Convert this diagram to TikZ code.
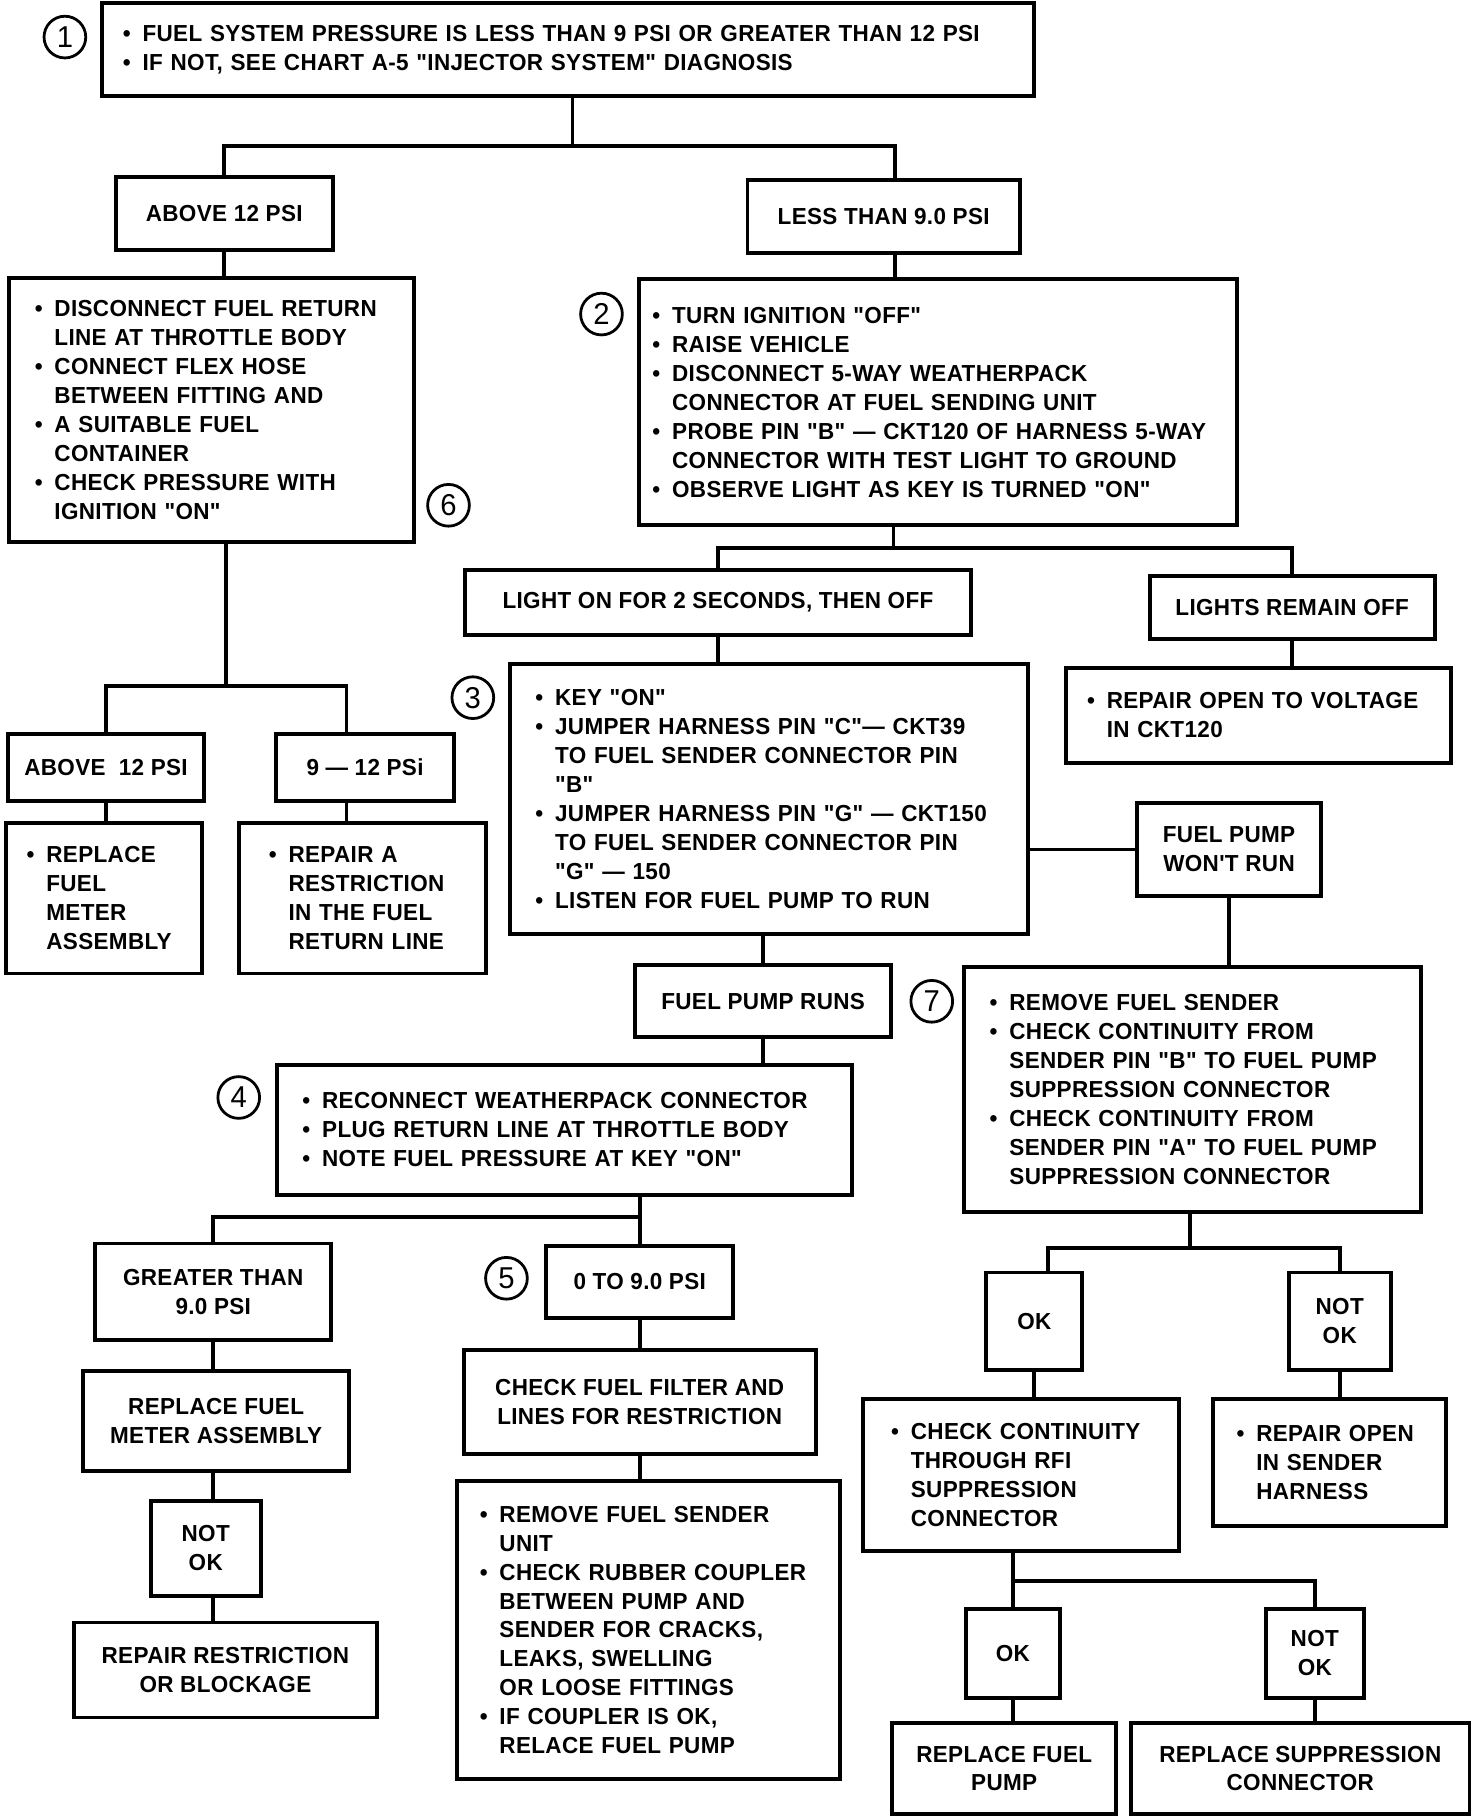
\documentclass[tikz,border=0pt]{standalone}
\usepackage{fontspec}
\newfontfamily\chartfont{Liberation Sans}[FakeStretch=0.97,LetterSpace=1.5]
\newcommand{\itm}{\makebox[0.85em][l]{\textbullet}}
\newcommand{\ind}{\hspace*{0.85em}}
\newcommand{\dash}{\textemdash}
\begin{document}
\begin{tikzpicture}[x=0.5pt,y=-0.5pt,
  box/.style={draw, line width=1.7pt, inner sep=0pt, align=center,
    font=\chartfont\bfseries\fontsize{10}{12.5}\selectfont},
  lbox/.style={box, align=left, inner xsep=11pt},
  num/.style={draw, circle, line width=1.2pt, minimum size=18pt, inner sep=0pt,
    font=\chartfont\fontsize{13}{13}\selectfont},
  wire/.style={line width=1.7pt}]
\useasboundingbox (0,0) rectangle (1270,1567);

\node[lbox, inner xsep=9pt, text width=384pt, minimum height=40pt] (check) at (490,43)
  {\itm FUEL SYSTEM PRESSURE IS LESS THAN 9 PSI OR GREATER THAN 12 PSI\\
   \itm IF NOT, SEE CHART A-5 "INJECTOR SYSTEM" DIAGNOSIS};
\node[num] (n1) at (56,32) {1};

\node[box, minimum width=93.5pt, minimum height=31.5pt] (hi) at (193.5,184.5) {ABOVE 12 PSI};
\node[box, minimum width=117.5pt, minimum height=31.5pt] (lo) at (762.5,186.5) {LESS THAN 9.0 PSI};

\node[lbox, text width=152.5pt, minimum height=114pt] (flex) at (182.5,354)
  {\itm DISCONNECT FUEL RETURN\\ \ind LINE AT THROTTLE BODY\\
   \itm CONNECT FLEX HOSE\\ \ind BETWEEN FITTING AND\\
   \itm A SUITABLE FUEL\\ \ind CONTAINER\\
   \itm CHECK PRESSURE WITH\\ \ind IGNITION "ON"};
\node[num] (n6) at (387,436) {6};

\node[lbox, inner xsep=6pt, text width=246pt, minimum height=106pt] (probe) at (809,347)
  {\itm TURN IGNITION "OFF"\\ \itm RAISE VEHICLE\\
   \itm DISCONNECT 5-WAY WEATHERPACK\\ \ind CONNECTOR AT FUEL SENDING UNIT\\
   \itm PROBE PIN "B" \dash\ CKT120 OF HARNESS 5-WAY\\ \ind CONNECTOR WITH TEST LIGHT TO GROUND\\
   \itm OBSERVE LIGHT AS KEY IS TURNED "ON"};
\node[num] (n2) at (519,271) {2};

\node[box, minimum width=218.5pt, minimum height=28pt] (lon) at (619.5,520) {LIGHT ON FOR 2 SECONDS, THEN OFF};
\node[box, minimum width=123pt, minimum height=27pt] (loff) at (1115,524) {LIGHTS REMAIN OFF};
\node[lbox, inner xsep=9pt, text width=148pt, minimum height=41pt] (volt) at (1086,617)
  {\itm REPAIR OPEN TO VOLTAGE\\ \ind IN CKT120};

\node[lbox, text width=201.5pt, minimum height=116.5pt] (jump) at (663.5,689.5)
  {\itm KEY "ON"\\
   \itm JUMPER HARNESS PIN "C"\dash\ CKT39\\ \ind TO FUEL SENDER CONNECTOR PIN\\ \ind "B"\\
   \itm JUMPER HARNESS PIN "G" \dash\ CKT150\\ \ind TO FUEL SENDER CONNECTOR PIN\\ \ind "G" \dash\ 150\\
   \itm LISTEN FOR FUEL PUMP TO RUN};
\node[num] (n3) at (408,602) {3};

\node[box, minimum width=79.5pt, minimum height=40pt] (norun) at (1060.5,733) {FUEL PUMP\\WON'T RUN};
\node[lbox, text width=175pt, minimum height=106pt] (cont) at (1029,940)
  {\itm REMOVE FUEL SENDER\\
   \itm CHECK CONTINUITY FROM\\ \ind SENDER PIN "B" TO FUEL PUMP\\ \ind SUPPRESSION CONNECTOR\\
   \itm CHECK CONTINUITY FROM\\ \ind SENDER PIN "A" TO FUEL PUMP\\ \ind SUPPRESSION CONNECTOR};
\node[num] (n7) at (804,864) {7};

\node[box, minimum width=110.5pt, minimum height=31pt] (runs) at (658.5,864) {FUEL PUMP RUNS};
\node[lbox, text width=226pt, minimum height=56pt] (plug) at (487,975)
  {\itm RECONNECT WEATHERPACK CONNECTOR\\
   \itm PLUG RETURN LINE AT THROTTLE BODY\\
   \itm NOTE FUEL PRESSURE AT KEY "ON"};
\node[num] (n4) at (206,947) {4};

\node[box, minimum width=102pt, minimum height=41.5pt] (gt) at (184,1114.5) {GREATER THAN\\9.0 PSI};
\node[box, minimum width=80.5pt, minimum height=31pt] (zero) at (552,1106) {0 TO 9.0 PSI};
\node[num] (n5) at (437,1103) {5};
\node[box, minimum width=114.5pt, minimum height=43pt] (meter) at (186.5,1226) {REPLACE FUEL\\METER ASSEMBLY};
\node[box, minimum width=47.5pt, minimum height=41pt] (nokA) at (177.5,1336) {NOT\\OK};
\node[box, minimum width=130.5pt, minimum height=41pt] (block) at (194.5,1441) {REPAIR RESTRICTION\\OR BLOCKAGE};
\node[box, minimum width=152pt, minimum height=45pt] (filter) at (552,1210) {CHECK FUEL FILTER AND\\LINES FOR RESTRICTION};
\node[lbox, inner xsep=10pt, text width=145.5pt, minimum height=128.5pt] (coupler) at (559.5,1406.5)
  {\itm REMOVE FUEL SENDER\\ \ind UNIT\\
   \itm CHECK RUBBER COUPLER\\ \ind BETWEEN PUMP AND\\ \ind SENDER FOR CRACKS,\\
   \ind LEAKS, SWELLING\\ \ind OR LOOSE FITTINGS\\
   \itm IF COUPLER IS OK,\\ \ind RELACE FUEL PUMP};

\node[box, minimum width=84.5pt, minimum height=29pt] (hiB) at (91.5,662) {ABOVE\ \ 12 PSI};
\node[box, minimum width=77pt, minimum height=29pt] (mid) at (315,662) {9 \dash\ 12 PSi};
\node[lbox, inner xsep=9pt, text width=66.5pt, minimum height=65pt] (meterB) at (89.5,775)
  {\itm REPLACE\\ \ind FUEL\\ \ind METER\\ \ind ASSEMBLY};
\node[lbox, inner xsep=13pt, text width=80.5pt, minimum height=65pt] (restr) at (312.5,775)
  {\itm REPAIR A\\ \ind RESTRICTION\\ \ind IN THE FUEL\\ \ind RETURN LINE};

\node[box, minimum width=41.5pt, minimum height=42pt] (okA) at (892.5,1140) {OK};
\node[box, minimum width=44pt, minimum height=42pt] (nokB) at (1156,1140) {NOT\\OK};
\node[lbox, inner xsep=12pt, text width=112pt, minimum height=65.5pt] (rfi) at (881,1272.5)
  {\itm CHECK CONTINUITY\\ \ind THROUGH RFI\\ \ind SUPPRESSION\\ \ind CONNECTOR};
\node[lbox, inner xsep=10pt, text width=80.5pt, minimum height=55pt] (harness) at (1147.5,1262)
  {\itm REPAIR OPEN\\ \ind IN SENDER\\ \ind HARNESS};
\node[box, minimum width=40.5pt, minimum height=38.5pt] (okB) at (874,1426.5) {OK};
\node[box, minimum width=42.5pt, minimum height=38.5pt] (nokC) at (1134.5,1426.5) {NOT\\OK};
\node[box, minimum width=96.5pt, minimum height=39pt] (pump) at (866.5,1526) {REPLACE FUEL\\PUMP};
\node[box, minimum width=146pt, minimum height=39pt] (supp) at (1122,1526) {REPLACE SUPPRESSION\\CONNECTOR};

\coordinate (t1) at (494,126);
\draw[wire] (t1 |- check.south) -- (t1);
\draw[wire] (hi.north) |- (t1) -| ([xshift=5pt]lo.north);
\draw[wire] (hi) -- (hi |- flex.north);
\draw[wire] ([xshift=5pt]lo.south) -- ([xshift=5pt]lo.south |- probe.north);

\coordinate (t2) at (771,473);
\draw[wire] (t2 |- probe.south) -- (t2);
\draw[wire] (lon.north) |- (t2) -| (loff.north);
\draw[wire] (lon) -- (lon |- jump.north);
\draw[wire] (loff) -- (loff |- volt.north);

\coordinate (t3) at (195,592);
\draw[wire] (t3 |- flex.south) -- (t3);
\draw[wire] (hiB.north) |- (t3) -| ([xshift=-8pt]mid.north);
\draw[wire] (hiB) -- (hiB |- meterB.north);
\draw[wire] ([xshift=-8pt]mid.south) -- ([xshift=-8pt]mid.south |- restr.north);

\draw[wire] (norun.west -| jump.east) -- (norun.west);
\draw[wire] (norun) -- (norun |- cont.north);
\draw[wire] (runs) -- (runs |- jump.south);
\draw[wire] (runs) -- (runs |- plug.north);

\coordinate (t4) at (552,1050);
\draw[wire] (t4 |- plug.south) -- (t4);
\draw[wire] (gt.north) |- (t4) -- (zero.north);
\draw[wire] (gt) -- (gt |- meter.north);
\draw[wire] (gt |- meter.south) -- (gt |- nokA.north);
\draw[wire] (gt |- nokA.south) -- (gt |- block.north);
\draw[wire] (zero) -- (zero |- filter.north);
\draw[wire] (filter) -- (filter |- coupler.north);

\coordinate (t5) at (1027,1077);
\draw[wire] (t5 |- cont.south) -- (t5);
\draw[wire] ([xshift=6pt]okA.north) |- (t5) -| (nokB.north);
\draw[wire] (okA) -- (okA |- rfi.north);
\draw[wire] (nokB) -- (nokB |- harness.north);

\coordinate (t6) at (874,1364);
\draw[wire] (t6 |- rfi.south) -- (t6);
\draw[wire] (okB.north) |- (t6) -| (nokC.north);
\draw[wire] (okB) -- (okB |- pump.north);
\draw[wire] (nokC) -- (nokC |- supp.north);
\end{tikzpicture}
\end{document}
